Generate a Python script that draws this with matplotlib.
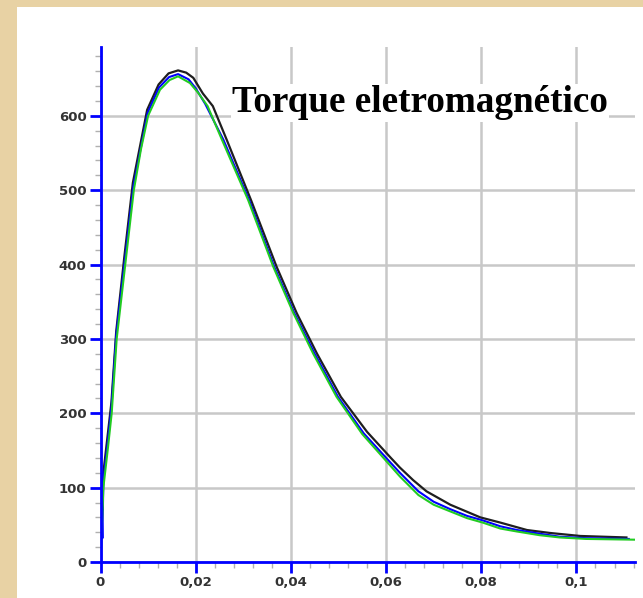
import matplotlib
matplotlib.use("Agg")
import matplotlib.pyplot as plt
from matplotlib.patches import Rectangle
from matplotlib.ticker import MultipleLocator

# tempo (s) e torque
t_green = [0, 0.0003, 0.0006, 0.0015, 0.00235, 0.0034, 0.0052, 0.007, 0.0085, 0.010,
           0.0125, 0.0145, 0.0163, 0.0188, 0.0205, 0.0225, 0.0255, 0.031, 0.0363, 0.0405,
           0.0447, 0.0496, 0.055, 0.060, 0.0629, 0.0668, 0.070, 0.0735, 0.077, 0.0803,
           0.084, 0.0875, 0.0923, 0.0965, 0.1021, 0.1123]
v_green = [0, 50, 100, 150, 200, 300, 400, 500, 555, 600,
           635, 648, 653, 644, 631, 613, 568, 487, 397, 335,
           280, 222, 172, 136, 115, 90, 77, 68, 59, 53,
           45, 41, 36, 33, 31, 30]

t_blue = [0, 0.0002, 0.0004, 0.0006, 0.0015, 0.0023, 0.0033, 0.0051, 0.0069, 0.0099,
          0.0123, 0.0144, 0.0163, 0.0185, 0.0200, 0.0220, 0.0258, 0.0312, 0.0365, 0.0407,
          0.0450, 0.0499, 0.0553, 0.0603, 0.0629, 0.0668, 0.070, 0.0735, 0.077, 0.0803,
          0.084, 0.0875, 0.0923, 0.0965, 0.1021, 0.1110]
v_blue = [0, 80, 32, 110, 160, 208, 305, 405, 505, 604,
          638, 652, 656, 649, 637, 616, 568, 487, 397, 335,
          280, 222, 173, 138, 120, 95, 81, 71, 62, 56,
          48, 43, 38, 34, 32, 31]

t_black = [0, 0.0002, 0.0004, 0.0006, 0.0015, 0.0023, 0.0033, 0.005, 0.0068, 0.0098,
           0.0122, 0.0143, 0.0163, 0.018, 0.0195, 0.0215, 0.0236, 0.0265, 0.0316, 0.037,
           0.0412, 0.0455, 0.0505, 0.056, 0.061, 0.0629, 0.0657, 0.0685, 0.0735, 0.0798,
           0.084, 0.0896, 0.0945, 0.1008, 0.1105]
v_black = [0, 100, 70, 120, 170, 215, 310, 410, 510, 608,
           642, 657, 661, 658, 651, 630, 613, 568, 487, 397,
           335, 280, 222, 175, 140, 127, 110, 95, 77, 60,
           53, 43, 39, 35, 33]

x_ticks = [0, 0.02, 0.04, 0.06, 0.08, 0.1]
x_labels = ["0", "0,02", "0,04", "0,06", "0,08", "0,1"]
y_ticks = [0, 100, 200, 300, 400, 500, 600]
title = "Torque eletromagnético"

W, H = 643, 598
fig = plt.figure(figsize=(W / 100, H / 100), dpi=100)
fig.patch.set_facecolor("#e8d2a4")
fig.patches.append(Rectangle((17 / W, 0), 1, 1 - 7 / H, transform=fig.transFigure,
                             facecolor="white", edgecolor="none", zorder=-5))

ax = fig.add_axes([100.5 / W, 36 / H, (635 - 100.5) / W, (562 - 46.6) / H])
ax.set_facecolor("white")

ax.plot(t_black, v_black, color="#1e1e1e", lw=1.6, zorder=3)
ax.plot(t_blue, v_blue, color="#0000ff", lw=1.5, zorder=4)
ax.plot(t_green, v_green, color="#22cc22", lw=1.5, zorder=5)

ax.set_xlim(0, 0.1123)
ax.set_ylim(0, 693)
ax.set_xticks(x_ticks)
ax.set_xticklabels(x_labels)
ax.set_yticks(y_ticks)
ax.xaxis.set_minor_locator(MultipleLocator(0.004))
ax.yaxis.set_minor_locator(MultipleLocator(20))

for side in ["top", "right"]:
    ax.spines[side].set_visible(False)
for side in ["left", "bottom"]:
    ax.spines[side].set_color("#0000ff")
    ax.spines[side].set_linewidth(2)
    ax.spines[side].set_zorder(6)

ax.grid(True, which="major", color="#c8c8c8", lw=1.8)
ax.set_axisbelow(True)

ax.tick_params(which="major", length=8, width=2, color="#0000ff", pad=2,
               labelsize=9.5, labelcolor="#333333")
ax.tick_params(which="minor", length=4, width=1, color="#b0b0b0")
for lab in ax.get_xticklabels() + ax.get_yticklabels():
    lab.set_fontweight("bold")
    lab.set_family("DejaVu Sans")

fig.text(232 / W, 1 - 103 / H, title, ha="left", va="center",
         fontsize=26.7, fontweight="bold", family="Liberation Serif", color="black",
         bbox=dict(facecolor="white", edgecolor="none", pad=1))

fig.savefig("out.png", dpi=100, facecolor=fig.get_facecolor())
